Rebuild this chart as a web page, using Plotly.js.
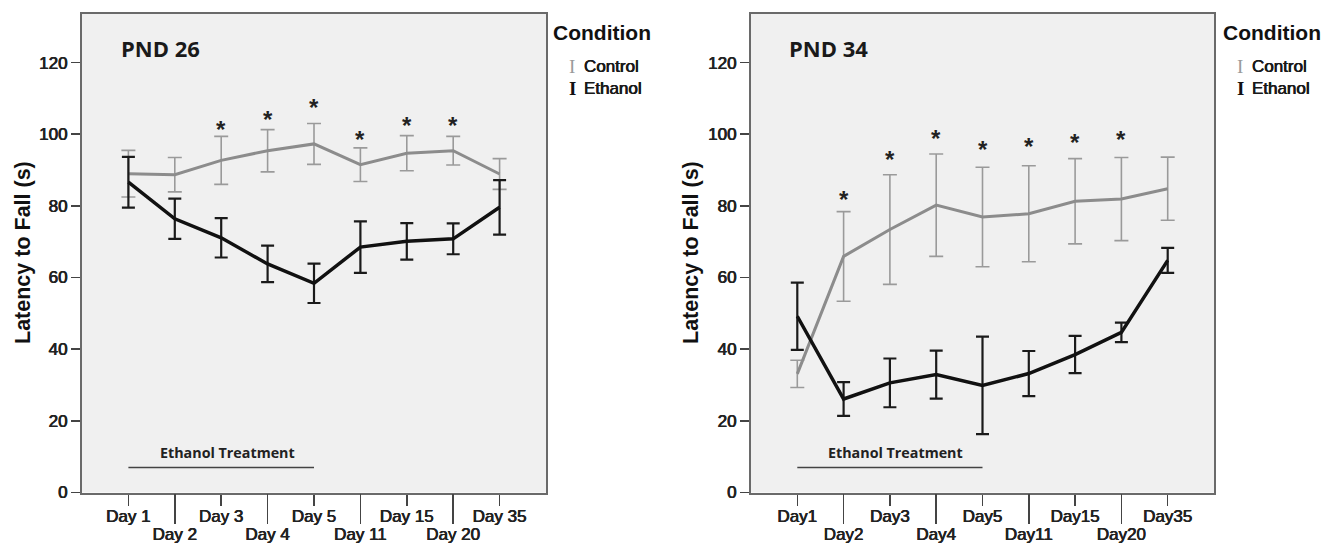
<!DOCTYPE html>
<html>
<head>
<meta charset="utf-8">
<script src="https://cdn.plot.ly/plotly-3.0.1.min.js"></script>
<style>html,body{margin:0;padding:0;background:#fff;}#chart{width:1328px;height:543px;}</style>
</head>
<body>
<div id="chart"></div>
<script>
// ---- data ----
const daysLeft  = ['Day 1','Day 2','Day 3','Day 4','Day 5','Day 11','Day 15','Day 20','Day 35'];
const daysRight = ['Day1','Day2','Day3','Day4','Day5','Day11','Day15','Day20','Day35'];

const pnd26Control    = [89.0, 88.7, 92.7, 95.4, 97.3, 91.5, 94.7, 95.4, 88.9];
const pnd26ControlErr = [6.5, 4.8, 6.7, 5.9, 5.7, 4.7, 4.9, 4.0, 4.3];
const pnd26Ethanol    = [86.6, 76.4, 71.1, 63.8, 58.4, 68.5, 70.1, 70.8, 79.6];
const pnd26EthanolErr = [7.1, 5.6, 5.5, 5.1, 5.5, 7.2, 5.1, 4.3, 7.6];
const pnd26Stars      = [null, null, 103.4, 106.2, 109.4, 100.6, 104.3, 104.3, null];

const pnd34Control    = [33.1, 65.9, 73.4, 80.2, 76.9, 77.8, 81.3, 81.9, 84.8];
const pnd34ControlErr = [3.8, 12.5, 15.3, 14.3, 13.9, 13.4, 11.9, 11.6, 8.8];
const pnd34Ethanol    = [49.2, 26.1, 30.6, 32.9, 29.9, 33.2, 38.5, 44.7, 64.8];
const pnd34EthanolErr = [9.4, 4.7, 6.8, 6.7, 13.6, 6.3, 5.2, 2.7, 3.5];
const pnd34Stars      = [null, 83.6, 94.8, 100.8, 97.6, 98.5, 99.7, 100.6, null];

const yTicks = [0, 20, 40, 60, 80, 100, 120];
const treatmentDays = [0, 4];     // Day 1 .. Day 5
const treatmentLevel = 7;
const treatmentLabelLevel = 11.2;
const panelTitles = ['PND 26', 'PND 34'];
const seriesNames = ['Control', 'Ethanol'];

// ---- style ----
const W = 1328, H = 543;
const px = v => v / W, py = v => 1 - v / H;
const GRAY = '#8c8c8c', GRAY_ERR = '#9a9a9a', BLACK = '#111111';
const THICK = '0.35px 0 0 #222, -0.35px 0 0 #222';
const tickFont = {family: 'Liberation Sans, Arial, sans-serif', size: 17, color: '#222', shadow: THICK};
const idx = daysLeft.map((d, i) => i);

function panelTraces(ctrl, ctrlErr, eth, ethErr, xa, ya, xa2) {
  return [
    {x: idx, y: ctrl, xaxis: xa, yaxis: ya, type: 'scatter', mode: 'lines',
     line: {color: GRAY, width: 3}, name: seriesNames[0], showlegend: false,
     error_y: {type: 'data', array: ctrlErr, visible: true, color: GRAY_ERR, thickness: 1.6, width: 7}},
    {x: idx, y: eth, xaxis: xa, yaxis: ya, type: 'scatter', mode: 'lines',
     line: {color: BLACK, width: 3.5}, name: seriesNames[1], showlegend: false,
     error_y: {type: 'data', array: ethErr, visible: true, color: '#1a1a1a', thickness: 2.2, width: 6.5}},
    {x: treatmentDays, y: treatmentDays.map(() => treatmentLevel), xaxis: xa2, yaxis: ya,
     type: 'scatter', mode: 'lines', line: {color: '#444', width: 1.5}, showlegend: false, hoverinfo: 'skip'}
  ];
}

const data = [].concat(
  panelTraces(pnd26Control, pnd26ControlErr, pnd26Ethanol, pnd26EthanolErr, 'x', 'y', 'x3'),
  panelTraces(pnd34Control, pnd34ControlErr, pnd34Ethanol, pnd34EthanolErr, 'x2', 'y2', 'x4')
);

const oddIdx = idx.filter(i => i % 2 === 0);
const evenIdx = idx.filter(i => i % 2 === 1);

function xMain(domain, labels, anchor) {
  return {domain: domain, anchor: anchor, range: [-1, 9], type: 'linear', fixedrange: true,
    showgrid: false, zeroline: false, showline: true, mirror: true, linecolor: '#6a6a6a', linewidth: 2,
    tickmode: 'array', tickvals: oddIdx, ticktext: oddIdx.map(i => labels[i]),
    ticks: 'outside', ticklen: 11, tickwidth: 1.5, tickcolor: '#444', tickfont: tickFont,
    ticklabelstandoff: -4};
}
function xOver(over, labels, anchor) {
  return {overlaying: over, anchor: anchor, range: [-1, 9], type: 'linear', fixedrange: true,
    showgrid: false, zeroline: false, showline: false, side: 'bottom',
    tickmode: 'array', tickvals: evenIdx, ticktext: evenIdx.map(i => labels[i]),
    ticks: 'outside', ticklen: 30, tickwidth: 1.5, tickcolor: '#444', tickfont: tickFont,
    ticklabelstandoff: -4};
}
function yAx(domain, anchor) {
  return {domain: domain, anchor: anchor, range: [0, 133.7], fixedrange: true,
    showgrid: false, zeroline: false, showline: true, mirror: true, linecolor: '#6a6a6a', linewidth: 2,
    tickmode: 'array', tickvals: yTicks, ticks: 'outside', ticklen: 9, tickwidth: 1.5,
    tickcolor: '#444', tickfont: tickFont};
}

const yDom = [py(492.5), py(13.5)];
const layout = {
  width: W, height: H, margin: {l: 0, r: 0, t: 0, b: 0},
  paper_bgcolor: '#ffffff', plot_bgcolor: '#f0f0f0', showlegend: false,
  xaxis: xMain([px(82), px(546)], daysLeft, 'y'),
  xaxis3: xOver('x', daysLeft, 'y'),
  yaxis: yAx(yDom, 'x'),
  xaxis2: xMain([px(751), px(1214)], daysRight, 'y2'),
  xaxis4: xOver('x2', daysRight, 'y2'),
  yaxis2: yAx(yDom, 'x2'),
  annotations: []
};

const ann = layout.annotations;
function stars(arr, xr, yr) {
  arr.forEach((v, i) => {
    if (v !== null) ann.push({x: i, y: v, xref: xr, yref: yr, text: '*', showarrow: false,
      font: {family: 'Liberation Sans, Arial', size: 24, color: '#222', weight: 'bold'},
      xanchor: 'center', yanchor: 'middle', yshift: -7});
  });
}
stars(pnd26Stars, 'x', 'y');
stars(pnd34Stars, 'x2', 'y2');

// Ethanol treatment labels
[['x3', 'y'], ['x4', 'y2']].forEach(([xr, yr]) => {
  ann.push({x: 2.13, y: treatmentLabelLevel, xref: xr, yref: yr, text: '<b>Ethanol Treatment</b>',
    showarrow: false, font: {family: 'Open Sans, sans-serif', size: 14.3, color: '#222'},
    xanchor: 'center', yanchor: 'middle'});
});

// panel titles
[[121, panelTitles[0]], [789, panelTitles[1]]].forEach(([x, t]) => {
  ann.push({x: px(x), y: py(48), xref: 'paper', yref: 'paper', text: '<b>' + t + '</b>',
    showarrow: false, font: {family: 'Open Sans, sans-serif', size: 22, color: '#1a1a1a'},
    xanchor: 'left', yanchor: 'middle', xshift: -2});
});

// y axis titles
[23, 691].forEach(x => {
  ann.push({x: px(x), y: py(253), xref: 'paper', yref: 'paper', text: '<b>Latency to Fall (s)</b>',
    textangle: -90, showarrow: false, font: {family: 'Liberation Sans, Arial', size: 21.5, color: '#111'},
    xanchor: 'center', yanchor: 'middle'});
});

// legends
[[553, 572, 584], [1223, 1240, 1252]].forEach(([xc, xi, xt]) => {
  ann.push({x: px(xc), y: py(33), xref: 'paper', yref: 'paper', text: '<b>Condition</b>',
    showarrow: false, font: {family: 'Liberation Sans, Arial', size: 21, color: '#111'},
    xanchor: 'left', yanchor: 'middle', xshift: -2});
  [[66, GRAY_ERR, seriesNames[0], 'normal'], [88, BLACK, seriesNames[1], 'bold']].forEach(([yy, col, name, wt]) => {
    ann.push({x: px(xi), y: py(yy), xref: 'paper', yref: 'paper', text: 'I', showarrow: false,
      font: {family: 'Liberation Serif, serif', size: 19, color: col, weight: wt}, xanchor: 'center', yanchor: 'middle'});
    ann.push({x: px(xt), y: py(yy), xref: 'paper', yref: 'paper', text: name, showarrow: false,
      font: {family: 'Liberation Sans, Arial', size: 17, color: '#1a1a1a', shadow: THICK},
      xanchor: 'left', yanchor: 'middle', xshift: -2});
  });
});

Plotly.newPlot('chart', data, layout, {staticPlot: true});
</script>
</body>
</html>
